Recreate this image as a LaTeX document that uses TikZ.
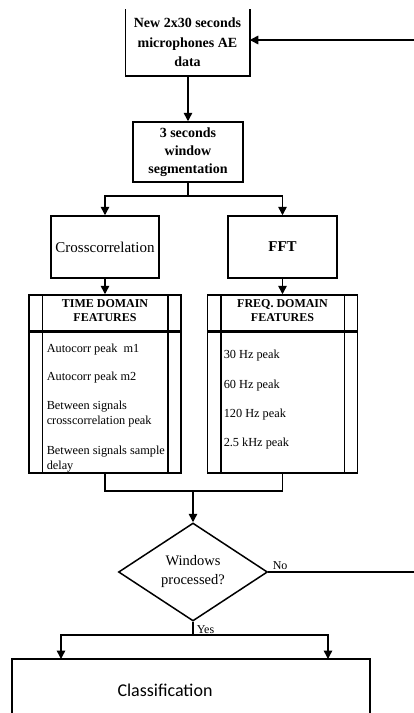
\documentclass[tikz,border=0pt]{standalone}
\usepackage{fontspec}
\setmainfont{Liberation Serif}
\newfontfamily\calib{Carlito}
\usetikzlibrary{arrows.meta,shapes.geometric,calc}
\begin{document}
\begin{tikzpicture}[x=1pt,y=-1pt,line width=1.5pt,
  arr/.style={-{Triangle[length=8.5pt,width=8.5pt]}},
  box/.style={draw,rectangle,align=center,inner sep=0pt},
  featbox/.style={draw,rectangle,inner sep=0pt,minimum height=178pt},
  hdr/.style={font=\bfseries\fontsize{12}{14}\selectfont,align=center,inner sep=0pt},
  itm/.style={anchor=west,align=left,inner sep=0pt,font=\fontsize{12.3}{15}\selectfont},
  lbl/.style={anchor=west,inner sep=0pt,font=\fontsize{12}{14}\selectfont}]
\useasboundingbox (0,0) rectangle (414,713);
\clip (0,0) rectangle (414,713);
% top box (open top)
\node[rectangle,inner sep=0pt,minimum width=123pt,minimum height=65pt,align=center,
  font=\bfseries\fontsize{14}{19.5}\selectfont] (data) at (187.5,42.5)
  {New 2x30 seconds\\microphones AE\\data};
\draw (data.north west) -- (data.south west) -- (data.south east) -- (data.north east);
% segmentation
\node[box,minimum width=110pt,minimum height=60pt,font=\bfseries\fontsize{14}{18}\selectfont]
  (seg) at (188,152) {3 seconds\\window\\segmentation};
% cross / fft
\node[box,minimum width=108pt,minimum height=62pt,font=\fontsize{15}{18}\selectfont]
  (cross) at (105,247) {Crosscorrelation};
\node[box,minimum width=109pt,minimum height=62pt,font=\bfseries\fontsize{15}{18}\selectfont]
  (fft) at (282.5,247) {FFT};
% feature boxes
\node[featbox,minimum width=152pt] (time) at (105,384) {};
\node[featbox,minimum width=150pt] (freq) at (282.5,384) {};
\foreach \b in {time,freq}{
  \draw ([xshift=14pt]\b.north west) -- ([xshift=14pt]\b.south west);
  \draw ([xshift=-14pt]\b.north east) -- ([xshift=-14pt]\b.south east);
  \draw[line width=2.8pt] ([yshift=-37pt]\b.north west) -- ([yshift=-37pt]\b.north east);
}
\node[hdr] (timeh) at (105,311) {TIME DOMAIN\\FEATURES};
\node[hdr] (freqh) at (282.5,311) {FREQ. DOMAIN\\FEATURES};
\node[itm] (t1) at (46,350) {Autocorr peak\ \ m1};
\node[itm] (t2) at (46,378) {Autocorr peak m2};
\node[itm] (t3) at (46,414.5) {Between signals\\crosscorrelation peak};
\node[itm] (t4) at (46,459) {Between signals sample\\delay};
\node[itm] (f1) at (223,356) {30 Hz peak};
\node[itm] (f2) at (223,386) {60 Hz peak};
\node[itm] (f3) at (223,415) {120 Hz peak};
\node[itm] (f4) at (223,444) {2.5 kHz peak};
% decision
\node[draw,diamond,aspect=1.5,inner sep=0pt,minimum width=149pt,minimum height=98pt,
  align=center,font=\fontsize{14.5}{19}\selectfont] (dec) at (193,572) {Windows\\processed?};
% classification
\node[draw,rectangle,minimum width=358pt,minimum height=80pt] (cls) at (191,699) {};
\node[inner sep=0pt,font=\calib\fontsize{18}{22}\selectfont] (clst) at (165,690) {Classification};
% labels
\node[lbl] (no) at (272,566) {No};
\node[lbl] (yes) at (196,630) {Yes};
% coordinates
\coordinate (split) at (188,196);
\coordinate (join) at (193,491);
\coordinate (yesj) at (193,635);
\coordinate (clsL) at (61,659);
\coordinate (clsR) at (328,659);
\coordinate (nr) at (424,572);
\coordinate (nt) at (424,40);
% connectors
\draw[arr] (data.south -| seg.north) -- (seg.north);
\draw (seg.south) -- (split);
\draw[arr] (split) -| (cross.north);
\draw[arr] (split) -| (fft.north);
\draw[arr] (cross) -- (time);
\draw[arr] (fft) -- (freq);
\draw (time.south) |- (join) -| (freq.south);
\draw[arr] (join) -- (dec.north);
\draw (dec.south) -- (yesj);
\draw[arr] (yesj) -| (clsL);
\draw[arr] (yesj) -| (clsR);
\draw[arr] (dec.east) -- (nr) -- (nt) -- (data.east |- nt);
\end{tikzpicture}
\end{document}
